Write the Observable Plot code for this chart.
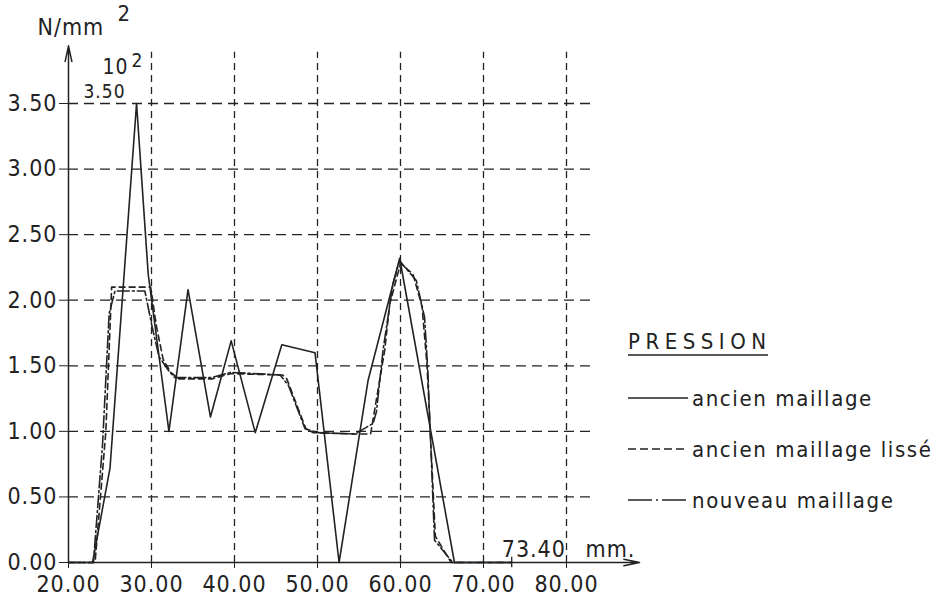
<!DOCTYPE html>
<html><head><meta charset="utf-8">
<script src="https://cdn.jsdelivr.net/npm/d3@7"></script>
<script src="https://cdn.jsdelivr.net/npm/@observablehq/plot@0.6"></script>
<style>
html,body{margin:0;padding:0;background:#fff;}
#chart svg{display:block;}
#chart text{letter-spacing:1px;}
</style></head><body><div id="chart"></div>
<script>
// ---- data ----
const xTicks = [20, 30, 40, 50, 60, 70, 80];
const yTicks = [0, 0.5, 1, 1.5, 2, 2.5, 3, 3.5];
const seriesNames = ["ancien maillage", "ancien maillage lissé", "nouveau maillage"];
const legendTitle = "PRESSION";
const xUnit = "mm.";
const yUnit = "N/mm";
const xEndLabel = 73.4;
const yMaxLabel = 3.5;

const ancienX = [20, 22.9, 25.0, 28.2, 29.6, 32.1, 34.4, 37.1, 39.6, 42.5, 45.7, 49.7, 52.6, 56.1, 59.9, 66.5, 73.4];
const ancienY = [0, 0, 0.72, 3.5, 2.2, 1.0, 2.08, 1.11, 1.69, 0.99, 1.66, 1.6, 0, 1.39, 2.32, 0, 0];

const lisseX = [20, 23.2, 24.5, 25.2, 29.9, 30.6, 31.4, 32.3, 33.3, 37.3, 39.5, 45.8, 46.3, 48.6, 49.5, 54.5, 56.4, 58.1, 58.7, 60.0, 61.5, 62.6, 63.2, 64.2, 66.1, 73.4];
const lisseY = [0, 0, 1.0, 2.1, 2.1, 1.8, 1.55, 1.45, 1.4, 1.4, 1.44, 1.43, 1.4, 1.02, 0.99, 0.98, 0.98, 1.62, 1.97, 2.28, 2.2, 1.95, 1.5, 0.2, 0, 0];

const nouveauX = [20, 23.0, 24.1, 24.9, 25.6, 29.2, 30.1, 30.9, 32.1, 32.8, 37.3, 39.5, 45.5, 46.5, 48.5, 50.0, 54.5, 56.7, 57.1, 57.9, 59.1, 59.9, 61.9, 62.9, 63.3, 64.1, 66.3, 73.4];
const nouveauY = [0, 0, 0.9, 1.9, 2.07, 2.07, 1.79, 1.57, 1.46, 1.41, 1.41, 1.45, 1.43, 1.35, 1.02, 0.99, 0.98, 1.06, 1.15, 1.62, 2.13, 2.3, 2.15, 1.87, 1.45, 0.17, 0, 0];

// ---- styling / layout constants ----
const ink = "#222";
const dashes = [null, "6,4", "12,3,2,3"];
const xAxisEnd = 88.8, yAxisEnd = 3.94, xGridEnd = 83.1, yGridTop = 3.89;
const font = '"DejaVu Sans Condensed","DejaVu Sans",sans-serif';

const pts = (xs, ys) => xs.map((x, i) => ({x, y: ys[i]}));
const series = [pts(ancienX, ancienY), pts(lisseX, lisseY), pts(nouveauX, nouveauY)];
const fmt = d => d.toFixed(2);

const plot = Plot.plot({
  width: 948, height: 601,
  marginLeft: 68, marginRight: 382, marginTop: 103, marginBottom: 39,
  x: {type: "linear", domain: [20, 80]},
  y: {type: "linear", domain: [0, 3.5]},
  style: {fontFamily: font, fontSize: "23px", color: ink, background: "#fff", overflow: "visible"},
  marks: [
    Plot.ruleY(yTicks.slice(1), {x1: 20, x2: xGridEnd, stroke: ink, strokeWidth: 1.3, strokeDasharray: "10,6"}),
    Plot.ruleX(xTicks.slice(1), {y1: 0, y2: yGridTop, stroke: ink, strokeWidth: 1.3, strokeDasharray: "7,5"}),
    Plot.axisY(yTicks, {tickFormat: fmt, tickSize: 9, tickPadding: 2, label: null, fontSize: 23, stroke: ink}),
    Plot.axisX(xTicks, {tickFormat: fmt, tickSize: 6, tickPadding: 7, label: null, fontSize: 23, stroke: ink}),
    Plot.ruleX([xEndLabel], {y1: -0.04, y2: 0.04, stroke: ink, strokeWidth: 1.3}),
    Plot.arrow([{x1: 20, y1: 0, x2: xAxisEnd, y2: 0}], {x1: "x1", y1: "y1", x2: "x2", y2: "y2", stroke: ink, strokeWidth: 1.5, headLength: 16, headAngle: 24}),
    Plot.arrow([{x1: 20, y1: 0, x2: 20, y2: yAxisEnd}], {x1: "x1", y1: "y1", x2: "x2", y2: "y2", stroke: ink, strokeWidth: 1.5, headLength: 16, headAngle: 24}),
    ...series.map((d, i) => Plot.line(d, {x: "x", y: "y", stroke: ink, strokeWidth: 1.6, strokeDasharray: dashes[i]})),
    Plot.text([xEndLabel], {x: d => d, y: 0, text: d => fmt(d), textAnchor: "start", dx: -10, dy: -13, fontSize: 23, fill: ink}),
    Plot.text([xUnit], {x: 80, y: 0, text: d => d, textAnchor: "start", dx: 19, dy: -13, fontSize: 23, fill: ink}),
    Plot.text([yUnit], {x: 20, y: yMaxLabel, text: d => d, textAnchor: "start", dx: -31, dy: -76, fontSize: 23, fill: ink}),
    Plot.text(["2"], {x: 20, y: yMaxLabel, text: d => d, textAnchor: "start", dx: 49, dy: -90, fontSize: 22, fill: ink}),
    Plot.text(["10"], {x: 20, y: yMaxLabel, text: d => d, textAnchor: "start", dx: 34, dy: -36, fontSize: 21, fill: ink}),
    Plot.text(["2"], {x: 20, y: yMaxLabel, text: d => d, textAnchor: "start", dx: 63, dy: -43, fontSize: 19, fill: ink}),
    Plot.text([yMaxLabel], {x: 20, y: d => d, text: d => fmt(d), textAnchor: "start", dx: 15, dy: -12, fontSize: 19, fill: ink})
  ]
});

// ---- legend (drawn into the same SVG) ----
const svg = d3.select(plot);
const lg = svg.append("g").attr("font-family", font).attr("fill", ink).attr("text-anchor", "start");
lg.append("text").attr("x", 628).attr("y", 349).attr("font-size", 22).attr("style", "letter-spacing:5.5px").text(legendTitle);
lg.append("line").attr("x1", 628).attr("x2", 768).attr("y1", 355).attr("y2", 355).attr("stroke", ink).attr("stroke-width", 1.4);
const rowY = [398, 449, 500];
seriesNames.forEach((name, i) => {
  lg.append("line").attr("x1", 628).attr("x2", 688).attr("y1", rowY[i]).attr("y2", rowY[i])
    .attr("stroke", ink).attr("stroke-width", 1.6).attr("stroke-dasharray", dashes[i] ? (i === 1 ? "8,4" : "24,4,2,4") : null);
  lg.append("text").attr("x", 692).attr("y", rowY[i] + 8).attr("font-size", 22).attr("style", "letter-spacing:1.6px").text(name);
});

document.getElementById("chart").appendChild(plot);
</script></body></html>
